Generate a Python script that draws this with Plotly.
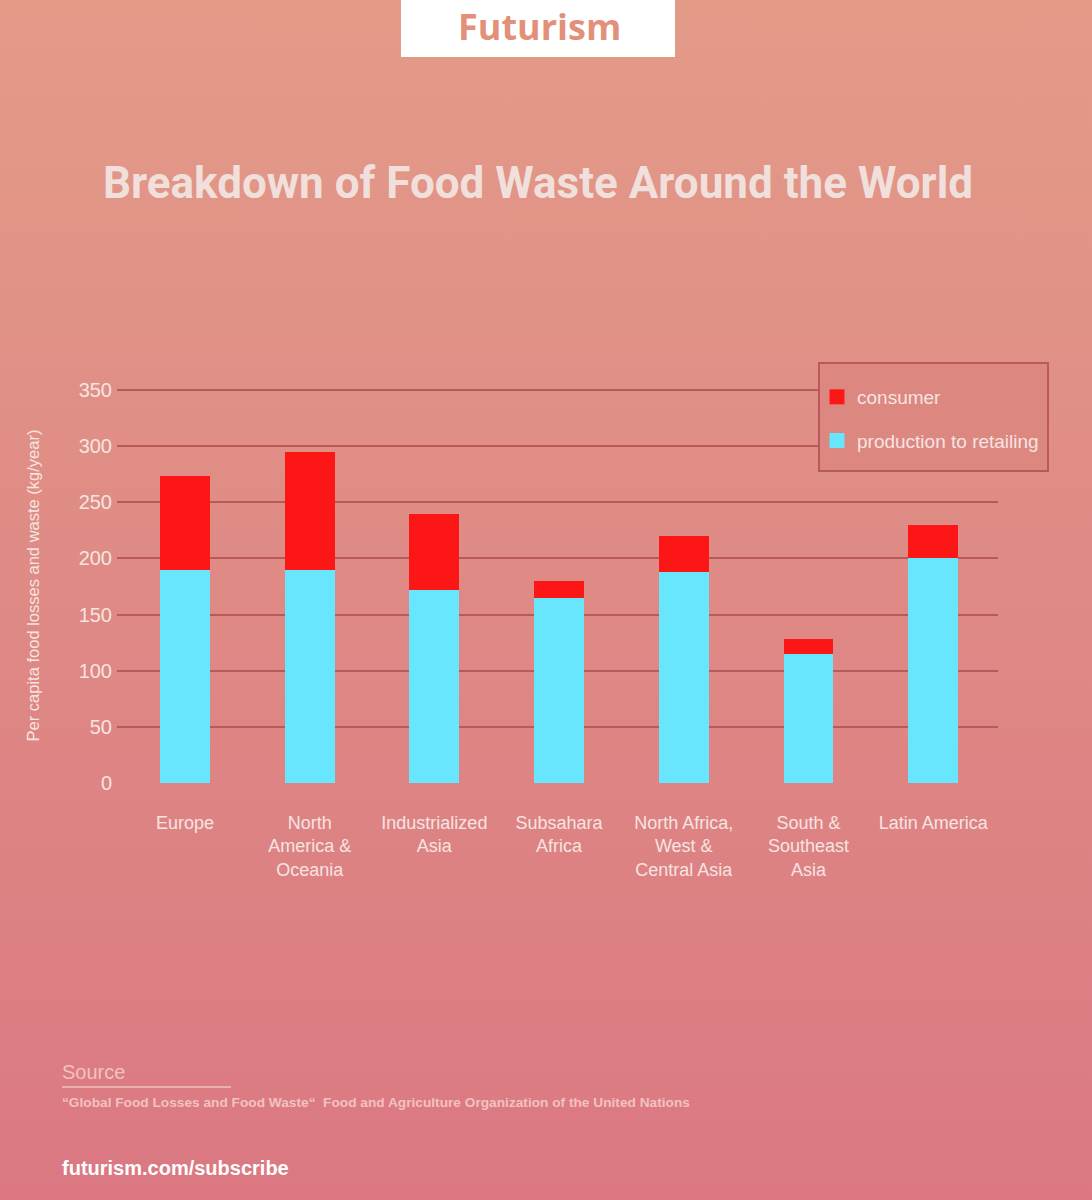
import base64
import plotly.graph_objects as go

# ---------------- data ----------------
regions = [
    "Europe",
    "North<br>America &<br>Oceania",
    "Industrialized<br>Asia",
    "Subsahara<br>Africa",
    "North Africa,<br>West &<br>Central Asia",
    "South &<br>Southeast<br>Asia",
    "Latin America",
]
production_to_retailing = [190, 190, 172, 165, 188, 115, 200]
consumer = [83, 105, 68, 15, 32, 13, 30]
y_tick_values = [0, 50, 100, 150, 200, 250, 300, 350]

# ---------------- layout helpers ----------------
FIG_W, FIG_H = 1092, 1200
L, R, T, B = 117, 998, 388, 783  # plot area in pixels
PW, PH = R - L, B - T
Y_MAX = 350 * (B - T) / (B - 390)


def px2x(px):
    return (px - L) / PW


def py2y(py):
    return (B - py) / PH


LIGHT = "#f6e4e0"
GRID = "#b9585d"
RED = "#fd1616"
CYAN = "#67e6fe"

svg = f"""<svg xmlns='http://www.w3.org/2000/svg' width='{FIG_W}' height='{FIG_H}' preserveAspectRatio='none'>
<defs><linearGradient id='g' x1='0' y1='0' x2='0' y2='1'>
<stop offset='0' stop-color='#e39b88'/><stop offset='1' stop-color='#db7882'/>
</linearGradient></defs><rect width='{FIG_W}' height='{FIG_H}' fill='url(#g)'/></svg>"""
bg_src = "data:image/svg+xml;base64," + base64.b64encode(svg.encode()).decode()

fig = go.Figure()
fig.add_trace(go.Bar(
    x=regions, y=production_to_retailing, name="production to retailing",
    marker=dict(color=CYAN, line=dict(width=0)), showlegend=False,
))
fig.add_trace(go.Bar(
    x=regions, y=consumer, name="consumer",
    marker=dict(color=RED, line=dict(width=0)), showlegend=False,
))
# legend entries (square swatches)
fig.add_trace(go.Scatter(
    x=[None], y=[None], mode="markers", name="consumer", legendgroup="c",
    legendrank=1, marker=dict(symbol="square", size=15, color=RED),
))
fig.add_trace(go.Scatter(
    x=[None], y=[None], mode="markers", name="production to retailing",
    legendgroup="p", legendrank=2,
    marker=dict(symbol="square", size=15, color=CYAN),
))

fig.update_layout(
    width=FIG_W, height=FIG_H,
    margin=dict(l=L, r=FIG_W - R, t=T, b=FIG_H - B, pad=0),
    barmode="stack", bargap=0.6,
    paper_bgcolor="#df8a84", plot_bgcolor="rgba(0,0,0,0)",
    font=dict(family="Liberation Sans, Arial, sans-serif", color=LIGHT),
    showlegend=True,
    legend=dict(
        x=px2x(817), y=py2y(378), xanchor="left", yanchor="top",
        bgcolor="rgba(0,0,0,0)", borderwidth=0,
        font=dict(size=19, color=LIGHT), traceorder="grouped",
        tracegroupgap=16, itemsizing="trace",
    ),
    xaxis=dict(
        range=[-0.545, 6.52],
        showgrid=False, zeroline=False, showline=False, ticks="",
        tickfont=dict(size=18, color=LIGHT), ticklabelstandoff=27,
        fixedrange=True,
    ),
    yaxis=dict(
        range=[0, Y_MAX], tickvals=y_tick_values, showgrid=True,
        gridcolor=GRID, gridwidth=2, zeroline=False, showline=False,
        ticks="", tickfont=dict(size=20, color=LIGHT), ticklabelstandoff=4,
        title=dict(text="Per capita food losses and waste (kg/year)",
                   font=dict(size=16.5, color=LIGHT), standoff=34),
        fixedrange=True,
    ),
    images=[dict(
        source=bg_src, xref="paper", yref="paper",
        x=px2x(0), y=py2y(0), sizex=FIG_W / PW, sizey=FIG_H / PH,
        xanchor="left", yanchor="top", sizing="stretch", layer="below",
    )],
    shapes=[
        dict(type="rect", xref="paper", yref="paper",
             x0=px2x(401), x1=px2x(675), y0=py2y(0), y1=py2y(57),
             fillcolor="white", line=dict(width=0), layer="above"),
        dict(type="rect", xref="paper", yref="paper",
             x0=px2x(819), x1=px2x(1048), y0=py2y(363), y1=py2y(471),
             fillcolor="#dd8781", line=dict(color=GRID, width=2),
             layer="above"),
        dict(type="line", xref="paper", yref="paper",
             x0=px2x(62), x1=px2x(231), y0=py2y(1087), y1=py2y(1087),
             line=dict(color="#f2c2c0", width=1.5)),
    ],
    annotations=[
        dict(text="<b>Futurism</b>", xref="paper", yref="paper",
             x=px2x(539), y=py2y(26), xanchor="center", yanchor="middle",
             showarrow=False, font=dict(family="Open Sans, sans-serif", size=36, color="#e3907b")),
        dict(text="<b>Breakdown of Food Waste Around the World</b>", xref="paper", yref="paper",
             x=px2x(538), y=py2y(183), xanchor="center", yanchor="middle",
             showarrow=False, font=dict(family="Roboto, sans-serif", size=44, color="#f0dfda")),
        dict(text="Source", xref="paper", yref="paper",
             x=px2x(60), y=py2y(1072), xanchor="left", yanchor="middle",
             showarrow=False, font=dict(size=20, color="#f2c2c0")),
        dict(text="<b>“Global Food Losses and Food Waste“  Food and Agriculture Organization of the United Nations</b>",
             xref="paper", yref="paper",
             x=px2x(60), y=py2y(1102), xanchor="left", yanchor="middle",
             showarrow=False, font=dict(size=13.7, color="#f2c2c0")),
        dict(text="<b>futurism.com/subscribe</b>", xref="paper", yref="paper",
             x=px2x(60), y=py2y(1168), xanchor="left", yanchor="middle",
             showarrow=False, font=dict(size=20, color="#ffffff")),
    ],
)

fig.write_html("out.html")
